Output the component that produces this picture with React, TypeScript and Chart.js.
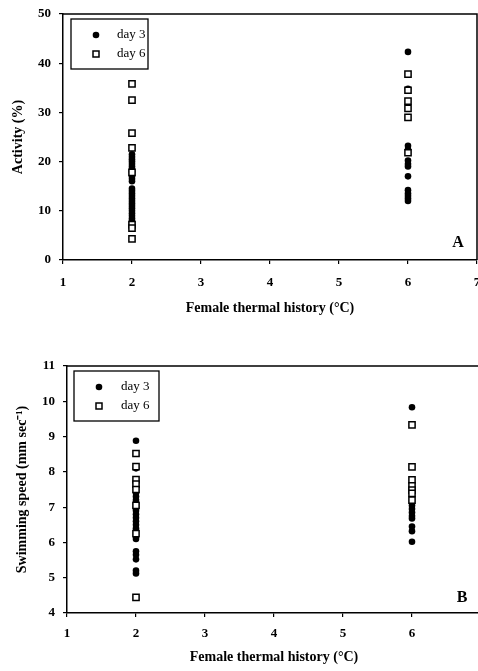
import React, { useEffect, useRef } from "react";
import { Chart, registerables } from "chart.js";

Chart.register(...registerables);

// ---------- data ----------
const seriesLabels = ["day 3", "day 6"];
const xAxisTicks = [1, 2, 3, 4, 5, 6, 7];

// Panel A: Activity (%)
const activityDay3AtTwo = [21.5, 21.0, 20.5, 20.0, 19.5, 19.0, 18.5, 18.0, 17.0, 16.5, 16.0, 14.5, 14.0, 13.5, 13.0, 12.5, 12.0, 11.5, 11.0, 10.5, 10.0, 9.5, 9.0, 8.5, 8.0, 7.5, 7.0, 6.5];
const activityDay6AtTwo = [35.8, 32.5, 25.8, 22.8, 17.8, 7.2, 6.5, 4.3];
const activityDay3AtSix = [42.3, 34.8, 23.2, 22.5, 20.2, 19.5, 19.0, 17.0, 14.2, 13.5, 13.0, 12.5, 12.0];
const activityDay6AtSix = [37.8, 34.5, 32.3, 30.8, 29.0, 21.8];

// Panel B: Swimming speed (mm sec-1)
const speedDay3AtTwo = [8.88, 8.1, 7.4, 7.3, 7.2, 7.1, 7.0, 6.9, 6.8, 6.7, 6.6, 6.5, 6.4, 6.1, 5.75, 5.65, 5.52, 5.2, 5.12];
const speedDay6AtTwo = [8.52, 8.15, 7.78, 7.65, 7.5, 7.05, 6.25, 4.44];
const speedDay3AtSix = [9.83, 7.05, 6.95, 6.85, 6.75, 6.68, 6.45, 6.32, 6.02];
const speedDay6AtSix = [9.33, 8.14, 7.77, 7.6, 7.48, 7.39, 7.2];

const temperatureLow = 2;
const temperatureHigh = 6;

const toPoints = (xv: number, ys: number[]) => ys.map((y) => ({ x: xv, y }));

const SERIF = "'Liberation Serif', 'Times New Roman', serif";

const framePlugin = {
  id: "frame",
  afterDraw(chart: any) {
    const { ctx, chartArea } = chart;
    ctx.save();
    ctx.strokeStyle = "#000";
    ctx.lineWidth = 1.5;
    ctx.beginPath();
    ctx.moveTo(chartArea.left, chartArea.top);
    ctx.lineTo(chartArea.right, chartArea.top);
    ctx.lineTo(chartArea.right, chartArea.bottom);
    ctx.stroke();
    ctx.restore();
  },
};

const boxLegendPlugin = {
  id: "boxLegend",
  afterDraw(chart: any, _args: any, opts: any) {
    const { ctx, chartArea } = chart;
    const x0 = chartArea.left + opts.dx;
    const y0 = chartArea.top + opts.dy;
    ctx.save();
    ctx.fillStyle = "#fff";
    ctx.fillRect(x0, y0, opts.w, opts.h);
    ctx.strokeStyle = "#000";
    ctx.lineWidth = 1.3;
    ctx.strokeRect(x0, y0, opts.w, opts.h);
    const rows = [y0 + 16, y0 + 35];
    chart.data.datasets.forEach((ds: any, i: number) => {
      const my = rows[i];
      const mx = x0 + 25;
      if (ds.pointStyle === "circle") {
        ctx.beginPath();
        ctx.arc(mx, my, 3.3, 0, Math.PI * 2);
        ctx.fillStyle = "#000";
        ctx.fill();
      } else {
        ctx.fillStyle = "#fff";
        ctx.fillRect(mx - 3, my - 3, 6, 6);
        ctx.lineWidth = 1.5;
        ctx.strokeStyle = "#000";
        ctx.strokeRect(mx - 3, my - 3, 6, 6);
      }
      ctx.fillStyle = "#000";
      ctx.font = `13px ${SERIF}`;
      ctx.textBaseline = "middle";
      ctx.textAlign = "left";
      ctx.fillText(ds.label, x0 + opts.textDx, my);
    });
    ctx.restore();
  },
};

const panelLetterPlugin = {
  id: "panelLetter",
  afterDraw(chart: any, _args: any, opts: any) {
    const { ctx, chartArea } = chart;
    ctx.save();
    ctx.fillStyle = "#000";
    ctx.font = `bold 16px ${SERIF}`;
    ctx.textAlign = "center";
    ctx.textBaseline = "middle";
    ctx.fillText(opts.text, chartArea.right - opts.dr, chartArea.bottom - opts.db);
    ctx.restore();
  },
};

type PanelCfg = {
  width: number;
  height: number;
  day3: { x: number; y: number }[];
  day6: { x: number; y: number }[];
  yMin: number;
  yMax: number;
  yStep: number;
  yTitle: string;
  yTitlePad: number;
  yWidth: number;
  xHeight: number;
  xTickPad: number;
  xTitlePad: number;
  padTop: number;
  legend: any;
  letter: any;
};

function buildConfig(c: PanelCfg): any {
  const tickFont = { family: SERIF, size: 13, weight: "bold" as const };
  const titleFont = { family: SERIF, size: 14, weight: "bold" as const };
  return {
    type: "scatter",
    data: {
      datasets: [
        {
          label: seriesLabels[0],
          data: c.day3,
          pointStyle: "circle",
          radius: 3.3,
          backgroundColor: "#000",
          borderColor: "#000",
          borderWidth: 0,
          order: 1,
        },
        {
          label: seriesLabels[1],
          data: c.day6,
          pointStyle: "rect",
          radius: 4.4,
          backgroundColor: "#fff",
          borderColor: "#000",
          borderWidth: 1.5,
          order: 0,
        },
      ],
    },
    options: {
      animation: false,
      responsive: false,
      events: [],
      layout: { autoPadding: false, padding: { top: c.padTop, right: 1, left: 0, bottom: 0 } },
      plugins: {
        legend: { display: false },
        tooltip: { enabled: false },
        boxLegend: c.legend,
        panelLetter: c.letter,
      },
      scales: {
        x: {
          type: "linear",
          min: xAxisTicks[0],
          max: xAxisTicks[xAxisTicks.length - 1],
          afterBuildTicks(s: any) {
            s.ticks = xAxisTicks.map((v) => ({ value: v }));
          },
          afterFit(s: any) {
            s.height = c.xHeight;
            s.paddingLeft = 0;
            s.paddingRight = 0;
          },
          ticks: { color: "#000", font: tickFont, padding: c.xTickPad, maxRotation: 0 },
          grid: { display: true, drawOnChartArea: false, tickLength: 4, color: "#000", lineWidth: 1.2 },
          border: { display: true, color: "#000", width: 1.5 },
          title: {
            display: true,
            text: "Female thermal history (°C)",
            color: "#000",
            font: titleFont,
            padding: { top: 0, bottom: c.xTitlePad },
          },
        },
        y: {
          type: "linear",
          min: c.yMin,
          max: c.yMax,
          ticks: { stepSize: c.yStep, color: "#000", font: tickFont, padding: 8 },
          afterFit(s: any) {
            s.width = c.yWidth;
            s.paddingTop = 0;
            s.paddingBottom = 0;
          },
          grid: { display: true, drawOnChartArea: false, tickLength: 4, color: "#000", lineWidth: 1.2 },
          border: { display: true, color: "#000", width: 1.5 },
          title: {
            display: true,
            text: c.yTitle,
            color: "#000",
            font: titleFont,
            padding: { top: c.yTitlePad, bottom: 0 },
          },
        },
      },
    },
    plugins: [framePlugin, boxLegendPlugin, panelLetterPlugin],
  };
}

function Panel({ cfg, top }: { cfg: PanelCfg; top: number }) {
  const ref = useRef<HTMLCanvasElement | null>(null);
  useEffect(() => {
    if (!ref.current) return;
    const chart = new Chart(ref.current, buildConfig(cfg));
    return () => chart.destroy();
  }, []);
  return (
    <canvas
      ref={ref}
      width={cfg.width}
      height={cfg.height}
      style={{ position: "absolute", left: 0, top, width: cfg.width, height: cfg.height }}
    />
  );
}

const panelA: PanelCfg = {
  width: 478,
  height: 335,
  day3: [...toPoints(temperatureLow, activityDay3AtTwo), ...toPoints(temperatureHigh, activityDay3AtSix)],
  day6: [...toPoints(temperatureLow, activityDay6AtTwo), ...toPoints(temperatureHigh, activityDay6AtSix)],
  yMin: 0,
  yMax: 50,
  yStep: 10,
  yTitle: "Activity (%)",
  yTitlePad: 10,
  yWidth: 63,
  xHeight: 75,
  xTickPad: 11,
  xTitlePad: 18,
  padTop: 14,
  legend: { dx: 8, dy: 5, w: 77, h: 50, textDx: 46 },
  letter: { text: "A", dr: 19, db: 17 },
};

const panelB: PanelCfg = {
  width: 482,
  height: 336,
  day3: [...toPoints(temperatureLow, speedDay3AtTwo), ...toPoints(temperatureHigh, speedDay3AtSix)],
  day6: [...toPoints(temperatureLow, speedDay6AtTwo), ...toPoints(temperatureHigh, speedDay6AtSix)],
  yMin: 4,
  yMax: 11,
  yStep: 1,
  yTitle: "Swimming speed (mm sec\u207B\u00B9)",
  yTitlePad: 14,
  yWidth: 67,
  xHeight: 58,
  xTickPad: 9,
  xTitlePad: 5,
  padTop: 31,
  legend: { dx: 7, dy: 5, w: 85, h: 50, textDx: 47 },
  letter: { text: "B", dr: 19, db: 15 },
};

export default function App() {
  return (
    <div
      style={{
        position: "absolute",
        left: 0,
        top: 0,
        width: 478,
        height: 671,
        overflow: "hidden",
        background: "#fff",
      }}
    >
      <Panel cfg={panelA} top={0} />
      <Panel cfg={panelB} top={335} />
    </div>
  );
}
